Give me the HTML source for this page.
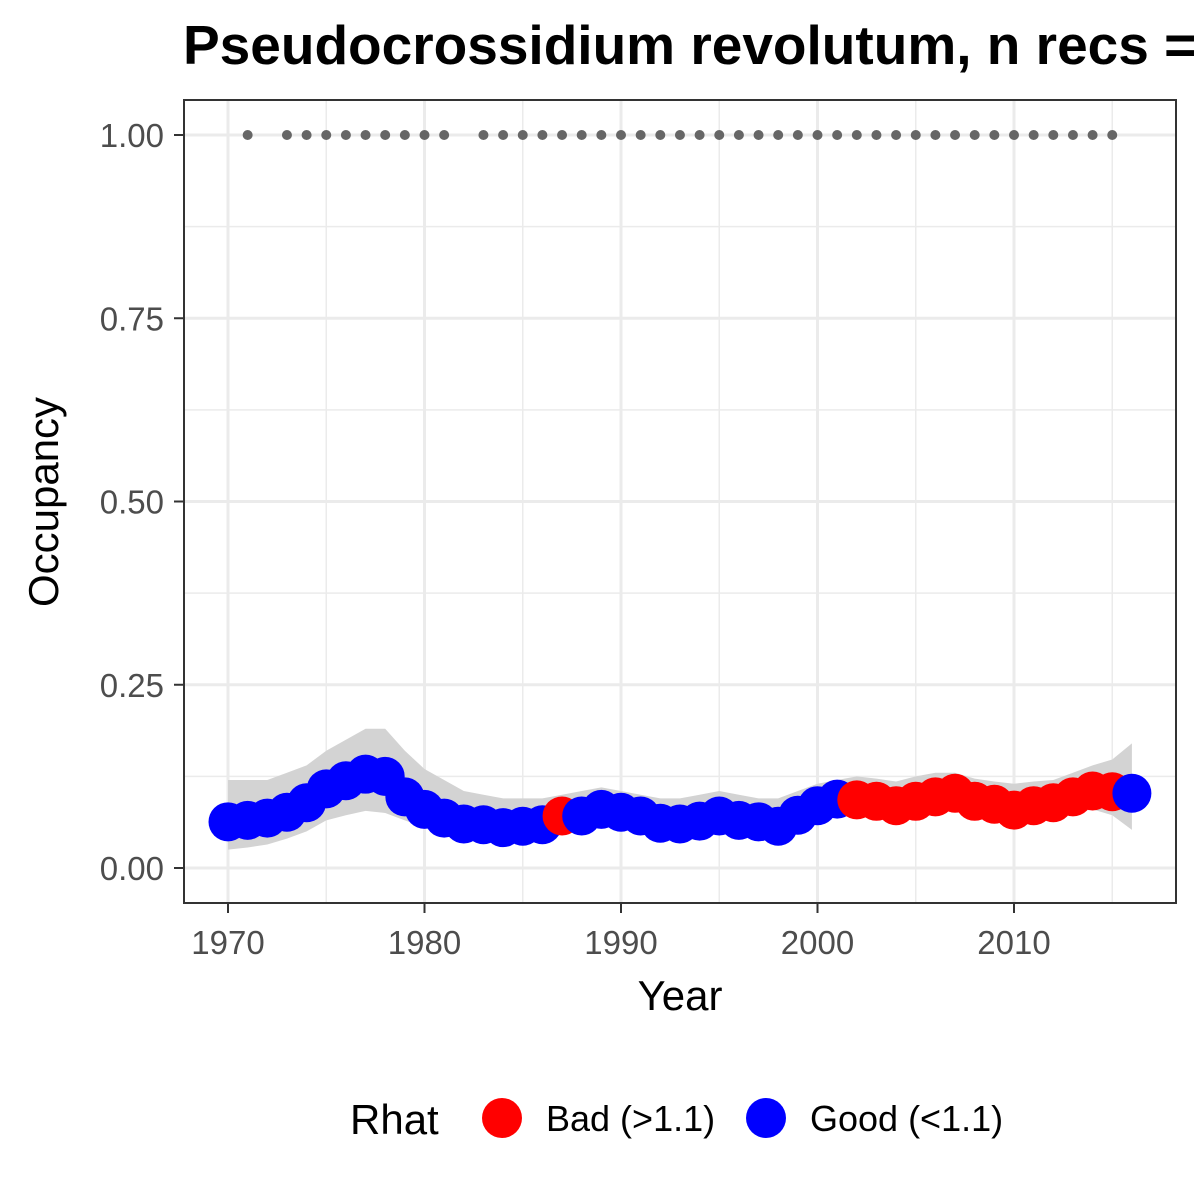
<!DOCTYPE html>
<html><head><meta charset="utf-8"><style>body{margin:0;background:#fff;overflow:hidden}svg{display:block;font-family:"Liberation Sans",Arial,sans-serif}</style></head>
<body>
<svg id="chart" width="1200" height="1200" viewBox="0 0 1200 1200" xmlns="http://www.w3.org/2000/svg">
<rect width="1200" height="1200" fill="#fff"/>
<text x="183" y="64" font-size="55" font-weight="bold" fill="#000">Pseudocrossidium revolutum, n recs = 61</text>
<g id="grid"></g>
<g id="ribbon"></g>
<g id="dots"></g>
<g id="points"></g>
<rect x="184" y="100" width="992" height="803" fill="none" stroke="#333" stroke-width="2"/>
<g id="axes"></g>
<text x="680" y="1010" font-size="42" text-anchor="middle" fill="#000">Year</text>
<text transform="translate(58,502) rotate(-90)" font-size="42" text-anchor="middle" fill="#000">Occupancy</text>
<g>
<text x="350" y="1134" font-size="42" fill="#000">Rhat</text>
<circle cx="502" cy="1118" r="20" fill="#ff0000"/>
<text x="546" y="1131" font-size="36" fill="#000">Bad (&gt;1.1)</text>
<circle cx="766" cy="1118" r="20" fill="#0000ff"/>
<text x="810" y="1131" font-size="36" fill="#000">Good (&lt;1.1)</text>
</g>
</svg>
<script>
const years=[1970,1971,1972,1973,1974,1975,1976,1977,1978,1979,1980,1981,1982,1983,1984,1985,1986,1987,1988,1989,1990,1991,1992,1993,1994,1995,1996,1997,1998,1999,2000,2001,2002,2003,2004,2005,2006,2007,2008,2009,2010,2011,2012,2013,2014,2015,2016];
const occ=[0.063,0.065,0.068,0.076,0.089,0.108,0.119,0.128,0.125,0.097,0.080,0.068,0.060,0.059,0.055,0.057,0.059,0.071,0.071,0.080,0.076,0.071,0.061,0.060,0.064,0.071,0.065,0.063,0.057,0.072,0.085,0.094,0.093,0.091,0.085,0.091,0.097,0.102,0.091,0.087,0.079,0.085,0.089,0.097,0.105,0.104,0.102];
const rhatBad=[0,0,0,0,0,0,0,0,0,0,0,0,0,0,0,0,0,1,0,0,0,0,0,0,0,0,0,0,0,0,0,0,1,1,1,1,1,1,1,1,1,1,1,1,1,1,0];
const lower=[0.025,0.028,0.032,0.04,0.05,0.065,0.072,0.078,0.075,0.065,0.055,0.048,0.042,0.04,0.038,0.04,0.042,0.05,0.055,0.06,0.058,0.055,0.048,0.045,0.05,0.055,0.05,0.048,0.045,0.055,0.065,0.075,0.075,0.075,0.068,0.072,0.075,0.08,0.075,0.07,0.065,0.068,0.07,0.075,0.08,0.072,0.052];
const upper=[0.12,0.12,0.12,0.13,0.14,0.16,0.175,0.19,0.19,0.16,0.135,0.12,0.105,0.1,0.095,0.095,0.095,0.1,0.105,0.11,0.105,0.1,0.095,0.095,0.1,0.105,0.1,0.095,0.095,0.105,0.115,0.12,0.125,0.122,0.118,0.125,0.13,0.13,0.122,0.118,0.115,0.118,0.12,0.13,0.14,0.148,0.17];
const recYears=[1971,1973,1974,1975,1976,1977,1978,1979,1980,1981,1983,1984,1985,1986,1987,1988,1989,1990,1991,1992,1993,1994,1995,1996,1997,1998,1999,2000,2001,2002,2003,2004,2005,2006,2007,2008,2009,2010,2011,2012,2013,2014,2015];
const xTicks=[1970,1980,1990,2000,2010];
const yTicks=[0,0.25,0.5,0.75,1];
const yTickLabels=["0.00","0.25","0.50","0.75","1.00"];

const NS="http://www.w3.org/2000/svg";
const X=v=>228+(v-1970)*19.65;
const Y=v=>868-v*733;
function mk(tag,attrs,parent){const e=document.createElementNS(NS,tag);for(const k in attrs)e.setAttribute(k,attrs[k]);document.getElementById(parent).appendChild(e);return e;}

[1975,1985,1995,2005,2015].forEach(v=>{const l=mk('line',{x1:X(v),x2:X(v),y1:100,y2:903,stroke:'#ebebeb','stroke-width':1.5},'grid');

});
[0.125,0.375,0.625,0.875].forEach(v=>{const l=mk('line',{x1:184,x2:1176,y1:Y(v),y2:Y(v),stroke:'#ebebeb','stroke-width':1.5},'grid');

});
xTicks.forEach(v=>{const l=mk('line',{x1:X(v),x2:X(v),y1:100,y2:903,stroke:'#ebebeb','stroke-width':3},'grid');

});
yTicks.forEach(v=>{const l=mk('line',{x1:184,x2:1176,y1:Y(v),y2:Y(v),stroke:'#ebebeb','stroke-width':3},'grid');

});

let d='M'+years.map((y,i)=>X(y)+','+Y(upper[i])).join('L')+'L'+years.slice().reverse().map((y,j)=>X(y)+','+Y(lower[years.length-1-j])).join('L')+'Z';
const rib=mk('path',{d:d,fill:'#d3d3d3'},'ribbon');



recYears.forEach(y=>{const c=mk('circle',{cx:X(y),cy:Y(1),r:5,fill:'#666666'},'dots');

});

years.forEach((y,i)=>{const c=mk('circle',{cx:X(y),cy:Y(occ[i]),r:19.5,fill:rhatBad[i]?'#ff0000':'#0000ff'},'points');

});

xTicks.forEach(v=>{const t=mk('line',{x1:X(v),x2:X(v),y1:903,y2:913,stroke:'#333','stroke-width':2},'axes');


const l=mk('text',{x:X(v),y:954,'font-size':33,'text-anchor':'middle',fill:'#4d4d4d'},'axes');l.textContent=v;

});
yTicks.forEach((v,i)=>{const t=mk('line',{x1:174,x2:184,y1:Y(v),y2:Y(v),stroke:'#333','stroke-width':2},'axes');


const l=mk('text',{x:164,y:Y(v)+12,'font-size':33,'text-anchor':'end',fill:'#4d4d4d'},'axes');l.textContent=yTickLabels[i];

});
</script>
</body></html>
